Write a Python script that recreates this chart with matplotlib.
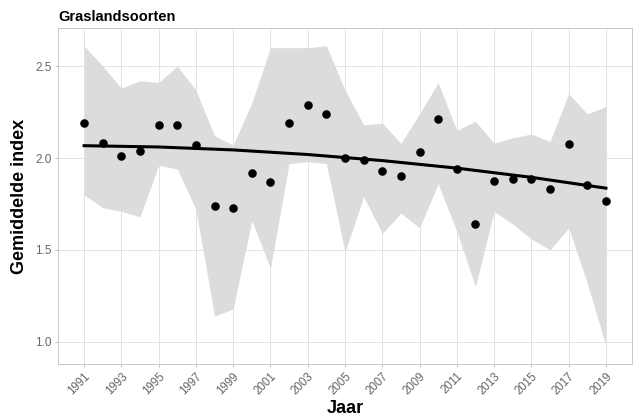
import numpy as np
import matplotlib
matplotlib.use('Agg')
import matplotlib.pyplot as plt

plt.rcParams['font.family'] = ['Liberation Sans', 'DejaVu Sans']

# Gemiddelde index per jaar, met betrouwbaarheidsband
jaren = list(range(1991, 2020))
gemiddelde = [2.19, 2.08, 2.01, 2.04, 2.18, 2.18, 2.07, 1.74, 1.73, 1.92,
              1.87, 2.19, 2.29, 2.24, 2.00, 1.99, 1.93, 1.90, 2.03, 2.21,
              1.94, 1.64, 1.875, 1.885, 1.885, 1.83, 2.075, 1.855, 1.765]
bovengrens = [2.61, 2.50, 2.38, 2.42, 2.41, 2.50, 2.37, 2.12, 2.07, 2.30,
              2.60, 2.60, 2.60, 2.61, 2.37, 2.18, 2.19, 2.08, 2.24, 2.41,
              2.15, 2.20, 2.08, 2.11, 2.13, 2.09, 2.35, 2.24, 2.28]
ondergrens = [1.80, 1.73, 1.71, 1.68, 1.96, 1.94, 1.72, 1.14, 1.18, 1.66,
              1.40, 1.97, 1.98, 1.97, 1.49, 1.79, 1.59, 1.70, 1.62, 1.86,
              1.60, 1.30, 1.71, 1.64, 1.56, 1.50, 1.62, 1.32, 0.98]

trend_jaren = [1991, 1995, 1999, 2003, 2007, 2011, 2015, 2019]
trend = [2.067, 2.060, 2.044, 2.019, 1.986, 1.945, 1.895, 1.836]

xticks = list(range(1991, 2020, 2))
yticks = [1.0, 1.5, 2.0, 2.5]

fig = plt.figure(figsize=(6.38, 4.19), dpi=100)
ax = fig.add_axes([0.0909, 0.1313, 0.8997, 0.8019])

ax.fill_between(jaren, ondergrens, bovengrens, color='#dcdcdc', linewidth=0, zorder=1)
ax.plot(trend_jaren, trend, color='black', linewidth=2.2, zorder=3)
ax.scatter(jaren, gemiddelde, s=38, color='black', zorder=4, linewidths=0)

ax.set_xlim(1989.6, 2020.4)
ax.set_ylim(0.88, 2.707)
ax.set_xticks(xticks)
ax.set_xticklabels([str(j) for j in xticks], rotation=45, ha='right',
                   rotation_mode='anchor', fontsize=8.3, color='#666666')
ax.set_yticks(yticks)
ax.set_yticklabels(['1.0', '1.5', '2.0', '2.5'], fontsize=8.5, color='#666666')
ax.tick_params(axis='both', length=2.5, color='#b3b3b3', width=0.6, pad=2)

ax.grid(True, color='#e3e3e3', linewidth=0.7, zorder=0)
ax.set_axisbelow(True)
for sp in ax.spines.values():
    sp.set_color('#c8c8c8')
    sp.set_linewidth(0.7)

ax.set_xlabel('Jaar', fontsize=13, fontweight='bold', labelpad=2)
ax.set_ylabel('Gemiddelde index', fontsize=13, fontweight='bold', labelpad=5)
ax.set_title('Graslandsoorten', fontsize=10.5, fontweight='bold', loc='left', pad=5)

fig.savefig('out.png', dpi=100)
